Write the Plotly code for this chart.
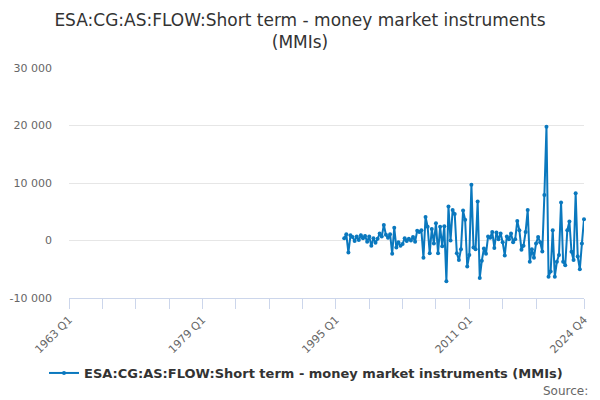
import plotly.graph_objects as go

# Quarters of the series (1996 Q1 .. 2024 Q4)
years = list(range(1996, 2025))
quarters = [f"{y} Q{q}" for y in years for q in (1, 2, 3, 4)]

values = [
    400, 1100, -2100, 900,      # 1996
    600, -100, 700, 100,        # 1997
    900, 400, 800, -200,        # 1998
    700, -900, 400, -400,       # 1999
    300, 1200, 700, 2700,       # 2000
    1000, 500, 1100, -2300,     # 2001
    2200, -1200, -300, -900,    # 2002
    -600, 400, -100, 300,       # 2003
    0, 600, -200, 1700,         # 2004
    1500, 1800, -3000, 4100,    # 2005
    2400, -2200, 2000, -500,    # 2006
    3000, -2200, 2400, -1000,   # 2007
    2500, -7100, 5900, 0,       # 2008
    5300, 4600, -2200, -3400,   # 2009
    -1500, 5200, 3600, -4500,   # 2010
    -2500, 9700, -1200, -1500,  # 2011
    6800, -6500, -3500, -1400,  # 2012
    -2300, 700, 500, 1500,      # 2013
    -1300, 1400, 200, 1200,     # 2014
    -300, -2600, 700, 200,      # 2015
    1200, -300, 200, 3400,      # 2016
    1800, -1600, -900, 1500,    # 2017
    5300, -3700, -1500, -3000,  # 2018
    -500, 600, -300, -1900,     # 2019
    7900, 19800, -6300, -5400,  # 2020
    1800, -6300, -3700, -2500,  # 2021
    6600, -3700, -4300, 1800,   # 2022
    3300, -1950, -3400, 8200,   # 2023
    -2800, -5000, -500, 3700,   # 2024
]

y_ticks = [-10000, 0, 10000, 20000, 30000]
y_tick_labels = ["-10 000", "0", "10 000", "20 000", "30 000"]

x_labelled = ["1963 Q1", "1979 Q1", "1995 Q1", "2011 Q1", "2024 Q4"]
tick_quarters = [f"{y} Q1" for y in range(1963, 2020, 4)] + ["2024 Q4"]

series_name = "ESA:CG:AS:FLOW:Short term - money market instruments (MMIs)"


def qnum(label):
    y, q = label.split(" Q")
    return int(y) + (int(q) - 1) / 4.0


x = [qnum(q) for q in quarters]
tickvals = [qnum(q) for q in tick_quarters]
ticktext = [q if q in x_labelled else "" for q in tick_quarters]

color = "#0a78be"

fig = go.Figure()
fig.add_trace(go.Scatter(
    x=x, y=values, mode="lines+markers", name=series_name,
    text=quarters,
    line=dict(color=color, width=2),
    marker=dict(color=color, size=4),
    cliponaxis=False,
))

fig.update_layout(
    width=600, height=400,
    margin=dict(l=69, r=16, t=68, b=102, autoexpand=False),
    paper_bgcolor="white", plot_bgcolor="white",
    font=dict(family="DejaVu Sans", color="#666666", size=11),
    title=dict(
        text="ESA:CG:AS:FLOW:Short term - money market instruments<br>(MMIs)",
        x=0.5, xanchor="center", xref="container",
        y=1 - 26 / 400, yanchor="top", yref="container",
        font=dict(family="DejaVu Sans", size=17, color="#333333"),
    ),
    showlegend=True,
    legend=dict(
        orientation="h", xref="container", yref="container",
        x=0.51, xanchor="center", y=1 - 373 / 400, yanchor="middle",
        font=dict(family="DejaVu Sans", size=13, color="#333333", weight="bold"),
        itemwidth=30,
    ),
    xaxis=dict(
        range=[1963.0, 2024.75], automargin=False,
        tickmode="array", tickvals=tickvals, ticktext=ticktext,
        tickangle=-45, ticks="outside", ticklen=10, tickcolor="#ccd6eb",
        showline=True, linecolor="#ccd6eb", linewidth=1,
        showgrid=False, zeroline=False,
        tickfont=dict(size=11, color="#666666"),
    ),
    yaxis=dict(
        range=[-10000, 30000], automargin=False,
        tickmode="array", tickvals=y_ticks, ticktext=y_tick_labels,
        showgrid=True, gridcolor="#e6e6e6", gridwidth=1,
        zeroline=False, showline=False, ticks="",
        ticklabelstandoff=16,
        tickfont=dict(size=11, color="#666666"),
    ),
    annotations=[dict(
        text="Source:", xref="paper", yref="paper",
        x=(590 - 69) / 515, y=(298 - 391) / 230, xanchor="right", yanchor="middle",
        showarrow=False, font=dict(size=12, color="#666666"),
    )],
)

fig.write_html("out.html", config={"displayModeBar": False},
               post_script="document.body.style.margin='0';")
